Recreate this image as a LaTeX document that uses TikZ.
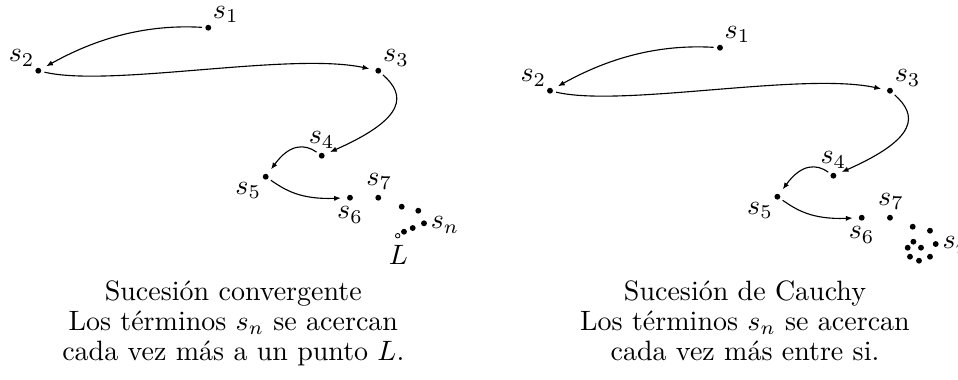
\documentclass[tikz,border=0pt]{standalone}
\usepackage{fontspec}
\usetikzlibrary{arrows.meta}
\begin{document}
\begin{tikzpicture}[x=0.3571pt,y=-0.3571pt,
  dotpt/.style={circle,fill=black,inner sep=0pt,minimum size=2.1pt},
  openpt/.style={circle,draw=black,fill=white,line width=0.3pt,inner sep=0pt,minimum size=1.6pt},
  lbl/.style={inner sep=0pt},
  captext/.style={inner sep=0pt,anchor=base},
  arr/.style={-{Latex[length=2.4pt,width=1.9pt]},line width=0.4pt,shorten <=1pt,shorten >=2pt}]
\useasboundingbox (0,0) rectangle (958,379);
% ---------- left: convergent sequence ----------
\begin{scope}
\node[dotpt] (a1) at (208.3,27.7) {};
\node[dotpt] (a2) at (38.3,70.7) {};
\node[dotpt] (a3) at (378.3,70.7) {};
\node[dotpt] (a4) at (321.7,155.7) {};
\node[dotpt] (a5) at (265.7,176.7) {};
\node[dotpt] (a6) at (350,197.7) {};
\node[dotpt] (a7) at (378.3,197.7) {};
\node[dotpt] (a8) at (401.7,206.7) {};
\node[dotpt] (a9) at (418.3,210.7) {};
\node[dotpt] (a10) at (424,223.3) {};
\node[dotpt] (a11) at (412.7,228) {};
\node[dotpt] (a12) at (404,231.7) {};
\node[openpt] (aL) at (397.7,235.7) {};
\node[lbl] (la1) at (225.8,14.5) {$s_1$};
\node[lbl] (la2) at (21.7,58) {$s_2$};
\node[lbl] (la3) at (396,58) {$s_3$};
\node[lbl] (la4) at (321.7,140) {$s_4$};
\node[lbl] (la5) at (248.3,190.7) {$s_5$};
\node[lbl] (la6) at (350,215) {$s_6$};
\node[lbl] (la7) at (379.3,181.7) {$s_7$};
\node[lbl] (lan) at (445,225) {$s_n$};
\node[lbl] (laL) at (398.3,255) {$L$};
\draw[arr] (a1) .. controls +(-68,-4) and +(52,-29) .. (a2);
\draw[arr] (a2) .. controls +(72,17) and +(-88,-19) .. (a3);
\draw[arr] (a3) .. controls +(27,24) and +(86,-38) .. (a4);
\draw[arr] (a4) .. controls +(-17,-12) and +(24,-33) .. (a5);
\draw[arr] (a5) .. controls +(19,13) and +(-50,2) .. (a6);
\end{scope}
% ---------- right: Cauchy sequence ----------
\begin{scope}[shift={(511.7,20)}]
\node[dotpt] (b1) at (208.3,27.7) {};
\node[dotpt] (b2) at (38.3,70.7) {};
\node[dotpt] (b3) at (378.3,70.7) {};
\node[dotpt] (b4) at (321.7,155.7) {};
\node[dotpt] (b5) at (265.7,176.7) {};
\node[dotpt] (b6) at (350,197.7) {};
\node[dotpt] (b7) at (378.3,197.7) {};
\node[dotpt] (b8) at (401,206.7) {};
\node[dotpt] (b9) at (418.3,210.7) {};
\node[dotpt] (b10) at (401.7,221.7) {};
\node[dotpt] (b11) at (424,224) {};
\node[dotpt] (b12) at (396,227.7) {};
\node[dotpt] (b13) at (409.3,227.7) {};
\node[dotpt] (b14) at (398.3,236.7) {};
\node[dotpt] (b15) at (407.3,240.7) {};
\node[dotpt] (b16) at (418.3,236.7) {};
\node[lbl] (lb1) at (225.8,14.5) {$s_1$};
\node[lbl] (lb2) at (21.7,58) {$s_2$};
\node[lbl] (lb3) at (396,58) {$s_3$};
\node[lbl] (lb4) at (321.7,140) {$s_4$};
\node[lbl] (lb5) at (248.3,190.7) {$s_5$};
\node[lbl] (lb6) at (350,215) {$s_6$};
\node[lbl] (lb7) at (379.3,181.7) {$s_7$};
\node[lbl] (lbn) at (445,225) {$s_n$};
\draw[arr] (b1) .. controls +(-68,-4) and +(52,-29) .. (b2);
\draw[arr] (b2) .. controls +(72,17) and +(-88,-19) .. (b3);
\draw[arr] (b3) .. controls +(27,24) and +(86,-38) .. (b4);
\draw[arr] (b4) .. controls +(-17,-12) and +(24,-33) .. (b5);
\draw[arr] (b5) .. controls +(19,13) and +(-50,2) .. (b6);
\end{scope}
% ---------- captions ----------
\node[captext] (ca1) at (233.3,300.5) {Sucesión convergente};
\node[captext] (ca2) at (233.3,330.5) {Los términos $s_n$ se acercan};
\node[captext] (ca3) at (233.3,360.5) {cada vez más a un punto $L$.};
\node[captext] (cb1) at (745,300.5) {Sucesión de Cauchy};
\node[captext] (cb2) at (745,330.5) {Los términos $s_n$ se acercan};
\node[captext] (cb3) at (745,360.5) {cada vez más entre si.};
\end{tikzpicture}
\end{document}
